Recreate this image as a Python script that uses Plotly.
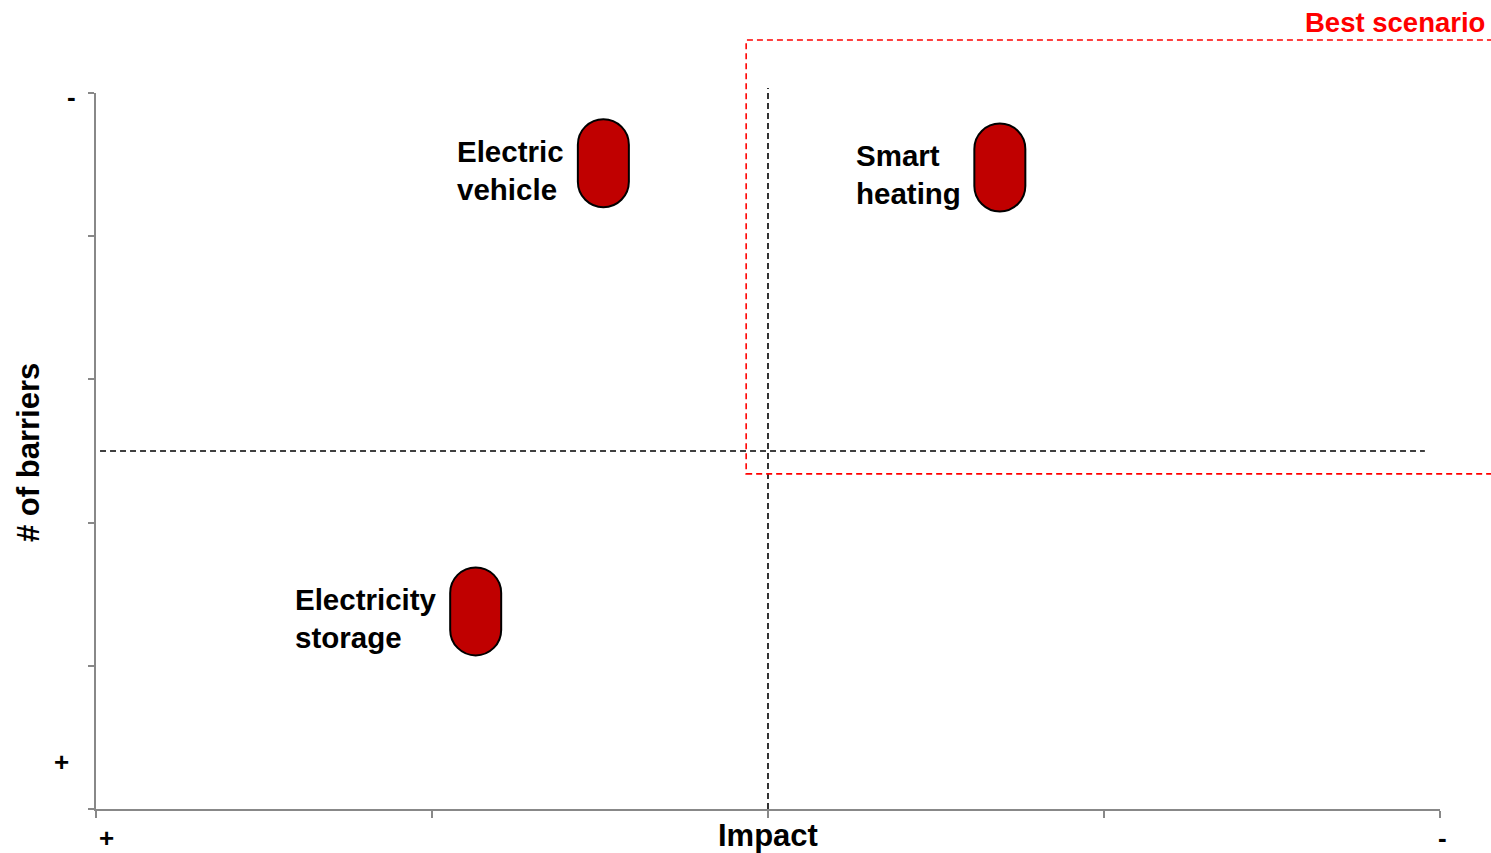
import plotly.graph_objects as go

# ---- data ----
technologies = ["Electric<br>vehicle", "Smart<br>heating", "Electricity<br>storage"]
impact = [1.51, 2.69, 1.13]          # x position (0 = "+", 4 = "-")
barriers = [4.51, 4.48, 1.38]        # y position (0 = "+", 5 = "-")
x_ticks = [0, 1, 2, 3, 4]
y_ticks = [0, 1, 2, 3, 4, 5]
x_mid = 2.0
y_mid = 2.5
best_box = dict(x0=1.935, x1=4.35, y0=2.34, y1=5.37)   # "Best scenario" region (data units)

X_RANGE = [0, 4]
Y_RANGE = [0, 5]
FONT = "Arial, Liberation Sans, sans-serif"

def px(v):
    return (v - X_RANGE[0]) / (X_RANGE[1] - X_RANGE[0])

def py(v):
    return (v - Y_RANGE[0]) / (Y_RANGE[1] - Y_RANGE[0])

fig = go.Figure()
fig.add_trace(go.Scatter(x=impact, y=barriers, mode="markers",
                         marker=dict(size=1, opacity=0), hoverinfo="skip",
                         showlegend=False))

shapes = []
# quadrant dividers
shapes.append(dict(type="line", xref="paper", yref="paper",
                   x0=px(0.012), x1=px(3.955), y0=py(y_mid), y1=py(y_mid),
                   line=dict(color="black", width=1.6, dash="6px,4px")))
shapes.append(dict(type="line", xref="paper", yref="paper",
                   x0=px(x_mid), x1=px(x_mid), y0=py(0), y1=py(5.035),
                   line=dict(color="black", width=1.6, dash="6px,4px")))
# best scenario box
shapes.append(dict(type="rect", xref="paper", yref="paper",
                   x0=px(best_box["x0"]), x1=px(best_box["x1"]),
                   y0=py(best_box["y0"]), y1=py(best_box["y1"]),
                   line=dict(color="#FF0000", width=1.6, dash="6px,4px"),
                   fillcolor="rgba(0,0,0,0)"))

# capsules (pixel-sized, anchored at data points)
r, s, k = 25.5, 18.5, 0.5523
cap_path = (f"M {-r},{-s} L {-r},{s} "
            f"C {-r},{s + k*r} {-k*r},{s + r} 0,{s + r} "
            f"C {k*r},{s + r} {r},{s + k*r} {r},{s} "
            f"L {r},{-s} "
            f"C {r},{-s - k*r} {k*r},{-s - r} 0,{-s - r} "
            f"C {-k*r},{-s - r} {-r},{-s - k*r} {-r},{-s} Z")
for xv, yv in zip(impact, barriers):
    shapes.append(dict(type="path", xref="x", yref="y",
                       xsizemode="pixel", ysizemode="pixel",
                       xanchor=xv, yanchor=yv, path=cap_path,
                       fillcolor="#C00000", line=dict(color="black", width=2),
                       layer="above"))

annotations = []
for name, xv, yv in zip(technologies, impact, barriers):
    annotations.append(dict(x=xv, y=yv, xref="x", yref="y", text=f"<b>{name}</b>",
                            showarrow=False, xanchor="right", yanchor="middle",
                            align="left", xshift=-37, yshift=-7,
                            font=dict(family=FONT, size=29.5, color="black")))

def lab(text, x, y, size, color="black", xanchor="center", angle=0):
    annotations.append(dict(x=x, y=y, xref="paper", yref="paper", text=f"<b>{text}</b>",
                            showarrow=False, xanchor=xanchor, yanchor="middle",
                            textangle=angle,
                            font=dict(family=FONT, size=size, color=color)))

lab("Impact", 0.5, -0.0377, 31)
lab("+", 0.008, -0.041, 26)
lab("-", 1.0022, -0.041, 26)
lab("-", -0.0186, 0.994, 26)
lab("+", -0.0253, 0.0656, 26)
lab("# of barriers", -0.0506, 0.4986, 31, angle=-90)
lab("Best scenario", 1.035, 1.099, 27.5, color="#FF0000", xanchor="right")

fig.update_layout(
    width=1491, height=853,
    margin=dict(l=96, r=51, t=93, b=44),
    paper_bgcolor="white", plot_bgcolor="white",
    showlegend=False,
    shapes=shapes, annotations=annotations,
    xaxis=dict(range=X_RANGE, tickvals=x_ticks, showticklabels=False,
               ticks="outside", ticklen=7, tickcolor="#888888", tickwidth=1.5,
               showline=True, linecolor="#888888", linewidth=2,
               showgrid=False, zeroline=False, fixedrange=True),
    yaxis=dict(range=Y_RANGE, tickvals=y_ticks, showticklabels=False,
               ticks="outside", ticklen=6, tickcolor="#888888", tickwidth=1.5,
               showline=True, linecolor="#888888", linewidth=2,
               showgrid=False, zeroline=False, fixedrange=True),
)

fig.write_html("out.html")
